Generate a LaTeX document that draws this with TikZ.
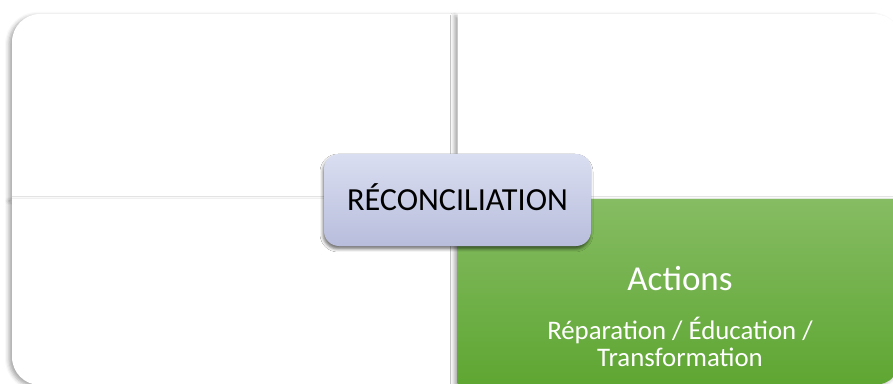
\documentclass[tikz,border=0pt]{standalone}
\usepackage{fontspec}
\setmainfont{Carlito}
\usetikzlibrary{shadows.blur}
\definecolor{gtop}{RGB}{134,188,99}
\definecolor{gbot}{RGB}{94,166,50}
\definecolor{btop}{RGB}{218,222,241}
\definecolor{bbot}{RGB}{184,189,220}
\tikzset{
  quadshadow/.style={blur shadow={shadow xshift=-3pt, shadow yshift=-2pt, shadow blur radius=4pt, shadow opacity=35}},
  quad/.style={fill=white, quadshadow},
  greenquad/.style={top color=gtop, bottom color=gbot, quadshadow},
  centerbox/.style={rounded corners=15pt, top color=btop, bottom color=bbot,
    minimum width=267pt, minimum height=92pt, inner sep=0pt,
    text height=21pt, text depth=0pt,
    blur shadow={shadow xshift=-1pt, shadow yshift=-3pt, shadow blur radius=3pt, shadow opacity=55},
    font=\fontsize{32.2}{38}\selectfont},
  whitetitle/.style={text=white, anchor=base, font=\fontsize{35}{42}\selectfont},
  whitesub/.style={text=white, anchor=base, align=center, font=\fontsize{26.8}{26.7}\selectfont}
}
\begin{document}
\begin{tikzpicture}[x=1pt,y=1pt]
\useasboundingbox (0,0) rectangle (893,383);
\clip (0,0) rectangle (893,383);
% top-left
\path[quad] (12,184) -- (12,341) arc[start angle=180, end angle=90, radius=28] -- (457.5,369) -- (457.5,184) -- cycle;
% bottom-left
\path[quad] (12,184) -- (457.5,184) -- (457.5,-2) -- (40,-2) arc[start angle=270, end angle=180, radius=28] -- cycle;
% top-right
\path[quad] (457.5,184) -- (457.5,369) -- (874,369) arc[start angle=90, end angle=0, radius=28] -- (902,184) -- cycle;
% bottom-right (green)
\path[greenquad] (457.5,184) -- (902,184) -- (902,26) arc[start angle=0, end angle=-90, radius=28] -- (457.5,-2) -- cycle;
% center
\node[centerbox] (center) at (457.5,183) {RÉCONCILIATION};
\node[whitetitle] (actions) at (680,93) {Actions};
\node[whitesub] (sub) at (680,17) {Réparation / Éducation /\\Transformation};
\end{tikzpicture}
\end{document}
